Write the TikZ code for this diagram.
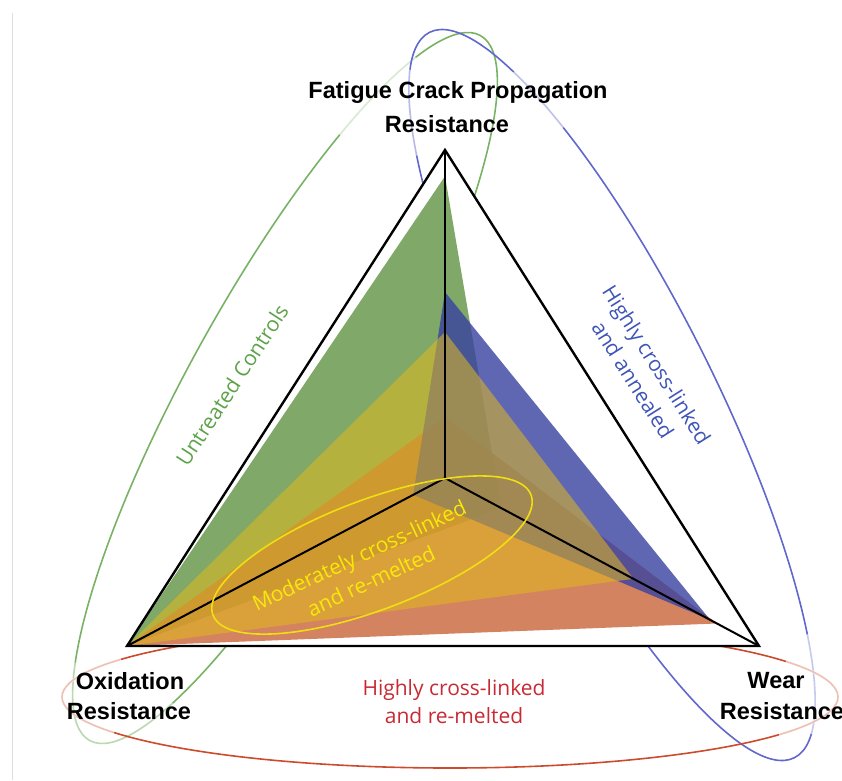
\documentclass[tikz,border=0pt]{standalone}
\usepackage{fontspec}
\setmainfont{Liberation Sans}
\newfontfamily\humanist{Open Sans}
\usetikzlibrary{calc}

\definecolor{fillgreen}{RGB}{86,139,54}
\definecolor{fillred}{RGB}{201,101,56}
\definecolor{fillblue}{RGB}{56,66,161}
\definecolor{fillyellow}{RGB}{224,186,31}
\definecolor{loopgreen}{RGB}{120,178,100}
\definecolor{loopblue}{RGB}{96,104,205}
\definecolor{loopred}{RGB}{205,75,45}
\definecolor{loopyellow}{RGB}{240,222,20}
\definecolor{txtgreen}{RGB}{92,162,72}
\definecolor{txtblue}{RGB}{62,84,184}
\definecolor{txtred}{RGB}{200,42,52}
\definecolor{txtyellow}{RGB}{248,232,10}
\definecolor{framegray}{RGB}{222,222,222}

\begin{document}
\begin{tikzpicture}[x=1pt,y=-1pt,
  loopline/.style={line width=1.6pt},
  fadeline/.style={white,line width=2.6pt,draw opacity=.72},
  axisline/.style={line width=2pt,black,line cap=round},
  outerline/.style={line width=2.4pt,black,line join=miter},
  blacklab/.style={font=\fontsize{23.5}{30}\selectfont\bfseries,inner sep=0pt},
  colorlab/.style={font=\humanist\fontsize{21}{28}\selectfont,align=center,inner sep=0pt}]
\useasboundingbox (0,0) rectangle (842,780);

% frame rule on the left
\draw[framegray,line width=1pt] (12,13) -- (12,780);

% axis end points
\coordinate (T) at (445,150);
\coordinate (L) at (127,646);
\coordinate (R) at (759,646);
\coordinate (C) at (445,478);

% one loop per material group, with the pale stretches of each loop
\begin{scope}[shift={(285,388)},rotate=61]
  \draw[loopline,loopgreen] (0,0) ellipse [x radius=403,y radius=95];
  \draw[fadeline] (-52:403 and 95) arc[start angle=-52,end angle=-29,x radius=403,y radius=95];
  \draw[fadeline,draw opacity=.5] (145:403 and 95) arc[start angle=145,end angle=212,x radius=403,y radius=95];
\end{scope}
\begin{scope}[shift={(612,395)},rotate=116.7]
  \draw[loopline,loopblue] (0,0) ellipse [x radius=406,y radius=100];
  \draw[fadeline,draw opacity=.55] (-42:406 and 100) arc[start angle=-42,end angle=-20,x radius=406,y radius=100];
  \draw[fadeline,draw opacity=.6] (35:406 and 100) arc[start angle=35,end angle=50,x radius=406,y radius=100];
  \draw[fadeline,draw opacity=.65] (138:406 and 100) arc[start angle=138,end angle=165,x radius=406,y radius=100];
\end{scope}
\begin{scope}[shift={(450,697)}]
  \draw[loopline,loopred] (0,0) ellipse [x radius=388,y radius=71];
  \draw[fadeline,draw opacity=.65] (150:388 and 71) arc[start angle=150,end angle=212,x radius=388,y radius=71];
  \draw[fadeline,draw opacity=.65] (-30:388 and 71) arc[start angle=-30,end angle=32,x radius=388,y radius=71];
\end{scope}

% plot area
\fill[white] (T) -- (L) -- (R) -- cycle;

% property triangles
\fill[fillgreen,fill opacity=.75] ($(C)!0.92!(T)$) -- (L) -- ($(C)!0.18!(R)$) -- cycle;
\fill[fillred,fill opacity=.8] ($(C)!0.186!(T)$) -- (L) -- ($(C)!0.866!(R)$) -- cycle;
\fill[fillblue,fill opacity=.8] ($(C)!0.567!(T)$) -- ($(C)!0.1!(L)$) -- ($(C)!0.844!(R)$) -- cycle;
\fill[fillyellow,fill opacity=.55] ($(C)!0.445!(T)$) -- (L) -- ($(C)!0.6!(R)$) -- cycle;

% axes and frame
\draw[axisline] (C) -- (T);
\draw[axisline] (C) -- (L);
\draw[axisline] (C) -- (R);
\draw[outerline] (T) -- (L) -- (R) -- cycle;

% loop of the moderately cross-linked group
\draw[loopline,loopyellow,rotate around={20.7:(372,555)}] (372,555) ellipse [x radius=170,y radius=55];

% axis titles
\node[blacklab] (fcp1) at (458,92) {Fatigue Crack Propagation};
\node[blacklab] (fcp2) at (447,124) {Resistance};
\node[blacklab] (ox1) at (130,681) {Oxidation};
\node[blacklab] (ox2) at (129,711) {Resistance};
\node[blacklab] (wr1) at (776,681) {Wear};
\node[blacklab] (wr2) at (782,711) {Resistance};

% group labels
\node[colorlab,txtgreen,rotate=57] (ut) at (232,385) {Untreated Controls};
\node[colorlab,txtblue,rotate=-57.7] (hca) at (645,372) {Highly cross-linked\\and annealed};
\node[colorlab,txtred] (hcr) at (454,702) {Highly cross-linked\\and re-melted};
\node[colorlab,txtyellow,rotate=25] (mcr) at (365,568) {Moderately cross-linked\\and re-melted};
\end{tikzpicture}
\end{document}
